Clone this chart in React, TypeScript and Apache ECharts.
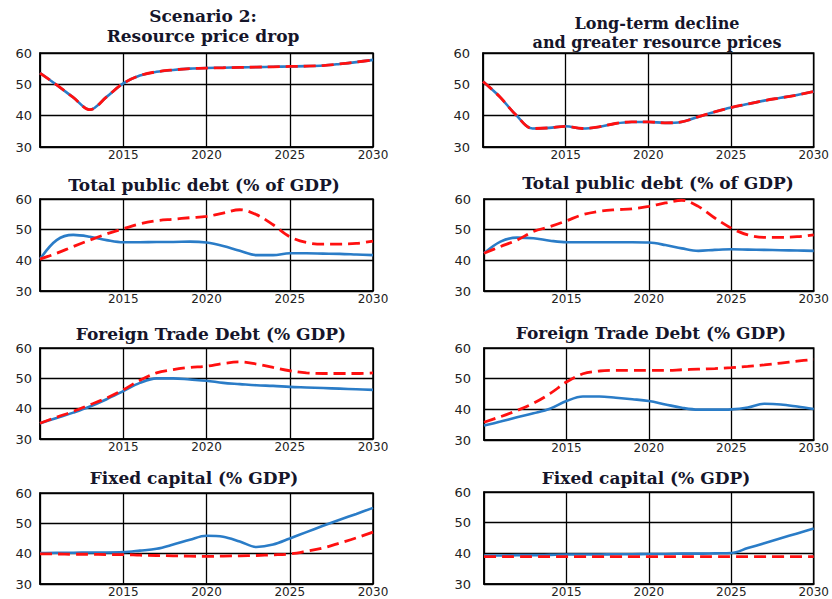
import React, { useEffect, useRef } from "react";
import * as echarts from "echarts";

const YEARS = [2010, 2011, 2012, 2013, 2014, 2015, 2016, 2017, 2018, 2019, 2020, 2021, 2022, 2023, 2024, 2025, 2026, 2027, 2028, 2029, 2030];

const TITLES = [
  "Scenario 2:\nResource price drop",
  "Long-term decline\nand greater resource prices",
  "Total public debt (% of GDP)",
  "Total public debt (% of GDP)",
  "Foreign Trade Debt (% GDP)",
  "Foreign Trade Debt (% GDP)",
  "Fixed capital (% GDP)",
  "Fixed capital (% GDP)",
];

const P1_BLUE = [53.6, 49.8, 45.8, 41.9, 46.0, 50.3, 52.8, 54.0, 54.6, 55.0, 55.2, 55.3, 55.4, 55.5, 55.6, 55.7, 55.8, 56.0, 56.5, 57.1, 57.8];
const P1_RED = [53.6, 49.8, 45.8, 41.9, 46.0, 50.3, 52.8, 54.0, 54.6, 55.0, 55.2, 55.3, 55.4, 55.5, 55.6, 55.7, 55.8, 56.0, 56.5, 57.1, 57.8];

const P2_BLUE = [50.9, 46.1, 40.2, 35.9, 36.1, 36.6, 35.9, 36.4, 37.5, 38.0, 38.0, 37.7, 38.0, 39.6, 41.2, 42.6, 43.7, 44.8, 45.7, 46.6, 47.7];
const P2_RED = [50.9, 46.1, 40.2, 35.9, 36.1, 36.6, 35.9, 36.4, 37.5, 38.0, 38.0, 37.7, 38.0, 39.6, 41.2, 42.6, 43.7, 44.8, 45.7, 46.6, 47.7];

const P3_BLUE = [40.4, 46.6, 48.3, 47.7, 46.6, 45.9, 45.9, 46.0, 46.0, 46.1, 45.8, 44.7, 43.1, 41.7, 41.7, 42.3, 42.3, 42.2, 42.1, 41.9, 41.7];
const P3_RED = [40.4, 42.3, 44.5, 46.6, 48.6, 50.3, 51.9, 52.9, 53.4, 53.9, 54.3, 55.4, 56.5, 54.9, 51.6, 47.7, 45.8, 45.3, 45.3, 45.5, 46.3];

const P4_BLUE = [42.3, 46.1, 47.4, 47.2, 46.4, 45.9, 45.9, 45.9, 45.9, 45.9, 45.8, 45.0, 43.9, 43.1, 43.4, 43.6, 43.5, 43.4, 43.3, 43.2, 43.1];
const P4_RED = [42.3, 44.5, 46.6, 49.4, 51.0, 52.9, 54.9, 56.0, 56.5, 56.8, 57.6, 58.7, 59.6, 57.6, 53.8, 50.5, 48.3, 47.5, 47.5, 47.7, 48.3];

const P5_BLUE = [35.2, 36.9, 38.7, 40.7, 43.1, 45.8, 48.5, 50.0, 50.0, 49.6, 49.2, 48.5, 48.1, 47.7, 47.5, 47.2, 47.0, 46.8, 46.6, 46.4, 46.2];
const P5_RED = [35.2, 37.2, 39.1, 41.3, 43.5, 46.2, 49.4, 51.8, 52.9, 53.6, 54.0, 54.9, 55.4, 54.7, 53.6, 52.5, 51.8, 51.6, 51.6, 51.6, 51.8];

const P6_BLUE = [34.7, 36.0, 37.4, 38.7, 40.2, 42.7, 44.2, 44.2, 43.8, 43.3, 42.7, 41.6, 40.5, 39.9, 39.9, 40.0, 40.6, 41.8, 41.6, 40.9, 40.1];
const P6_RED = [35.8, 37.6, 39.6, 42.0, 45.1, 48.9, 51.6, 52.5, 52.7, 52.7, 52.7, 52.7, 52.9, 53.1, 53.3, 53.6, 54.0, 54.5, 55.1, 55.7, 56.3];

const P7_BLUE = [40.2, 40.3, 40.3, 40.4, 40.4, 40.5, 41.0, 41.6, 43.0, 44.6, 45.9, 45.6, 44.0, 42.2, 43.0, 45.0, 47.1, 49.2, 51.2, 53.1, 55.1];
const P7_RED = [39.9, 39.9, 39.8, 39.8, 39.7, 39.7, 39.5, 39.4, 39.3, 39.2, 39.1, 39.2, 39.3, 39.4, 39.6, 39.9, 40.8, 41.9, 43.5, 45.2, 47.1];

const P8_BLUE = [39.3, 39.3, 39.4, 39.4, 39.5, 39.6, 39.6, 39.6, 39.7, 39.7, 39.8, 39.8, 39.9, 39.9, 40.0, 40.1, 41.7, 43.3, 44.9, 46.5, 48.1];
const P8_RED = [38.9, 38.9, 38.9, 38.9, 38.9, 38.9, 38.9, 38.9, 38.9, 38.9, 38.9, 38.9, 38.9, 38.9, 38.9, 38.9, 38.9, 38.9, 38.9, 38.9, 38.9];

const BLUE_SERIES = [P1_BLUE, P2_BLUE, P3_BLUE, P4_BLUE, P5_BLUE, P6_BLUE, P7_BLUE, P8_BLUE];
const RED_SERIES = [P1_RED, P2_RED, P3_RED, P4_RED, P5_RED, P6_RED, P7_RED, P8_RED];

// layout
const GRIDS = [
  { left: 40, top: 53, width: 333, height: 94 },
  { left: 483, top: 53, width: 334, height: 94 },
  { left: 40, top: 199, width: 333, height: 92 },
  { left: 484, top: 199, width: 334, height: 92 },
  { left: 40, top: 348, width: 333, height: 91 },
  { left: 484, top: 348, width: 334, height: 92 },
  { left: 40, top: 493, width: 333, height: 91 },
  { left: 484, top: 492, width: 334, height: 92 },
];
const TITLE_POS = [
  { x: 203, y: 26, size: 17, lh: 20 },
  { x: 657, y: 33, size: 16, lh: 19 },
  { x: 204, y: 185, size: 17, lh: 17 },
  { x: 658, y: 183, size: 17, lh: 17 },
  { x: 211, y: 334, size: 17, lh: 17 },
  { x: 651, y: 333, size: 17, lh: 17 },
  { x: 194, y: 478, size: 17, lh: 17 },
  { x: 646, y: 478, size: 17, lh: 17 },
];

const BLUE = "#2a7cc7";
const RED = "#ff1010";

export default function App() {
  const ref = useRef<HTMLDivElement>(null);
  useEffect(() => {
    if (!ref.current) return;
    const chart = echarts.init(ref.current, undefined, { renderer: "svg" });
    const grid = GRIDS.map((g) => ({
      ...g,
      show: true,
      borderColor: "#000",
      borderWidth: 1.5,
      backgroundColor: "transparent",
      containLabel: false,
    }));
    const xAxis = GRIDS.map((_, i) => ({
      type: "value",
      gridIndex: i,
      min: 2010,
      max: 2030,
      interval: 5,
      axisLine: { show: true, lineStyle: { color: "#000", width: 1.5 } },
      axisTick: { show: false },
      splitLine: { show: true, lineStyle: { color: "#000", width: 1.3 } },
      axisLabel: {
        showMinLabel: false,
        margin: 2,
        color: "#222",
        fontFamily: "DejaVu Sans",
        fontSize: 12,
        formatter: (v: number) => String(v),
      },
    }));
    const yAxis = GRIDS.map((_, i) => ({
      type: "value",
      gridIndex: i,
      min: 30,
      max: 60,
      interval: 10,
      axisLine: { show: true, lineStyle: { color: "#000", width: 1.5 } },
      axisTick: { show: false },
      splitLine: { show: true, lineStyle: { color: "#000", width: 1.3 } },
      axisLabel: {
        margin: i % 2 === 0 ? 8 : 13,
        color: "#222",
        fontFamily: "DejaVu Sans",
        fontSize: 13,
      },
    }));
    const series: any[] = [];
    GRIDS.forEach((_, i) => {
      series.push({
        type: "line",
        xAxisIndex: i,
        yAxisIndex: i,
        data: YEARS.map((y, k) => [y, BLUE_SERIES[i][k]]),
        smooth: 0.35,
        showSymbol: false,
        lineStyle: { color: BLUE, width: 2.6 },
        z: 3,
      });
      series.push({
        type: "line",
        xAxisIndex: i,
        yAxisIndex: i,
        data: YEARS.map((y, k) => [y, RED_SERIES[i][k]]),
        smooth: 0.35,
        showSymbol: false,
        lineStyle: { color: RED, width: 2.8, type: [12, 6] },
        z: 4,
      });
    });
    const graphic = TITLES.map((t, i) => ({
      type: "text",
      x: TITLE_POS[i].x,
      y: TITLE_POS[i].y,
      style: {
        text: t,
        align: "center",
        verticalAlign: "middle",
        font: `bold ${TITLE_POS[i].size}px "DejaVu Serif"`,
        lineHeight: TITLE_POS[i].lh,
        fill: "#15152a",
      },
    }));
    chart.setOption({
      animation: false,
      backgroundColor: "#fff",
      grid,
      xAxis,
      yAxis,
      series,
      graphic,
    });
    return () => chart.dispose();
  }, []);
  return (
    <div
      ref={ref}
      style={{ position: "absolute", left: 0, top: 0, width: 832, height: 599 }}
    />
  );
}
